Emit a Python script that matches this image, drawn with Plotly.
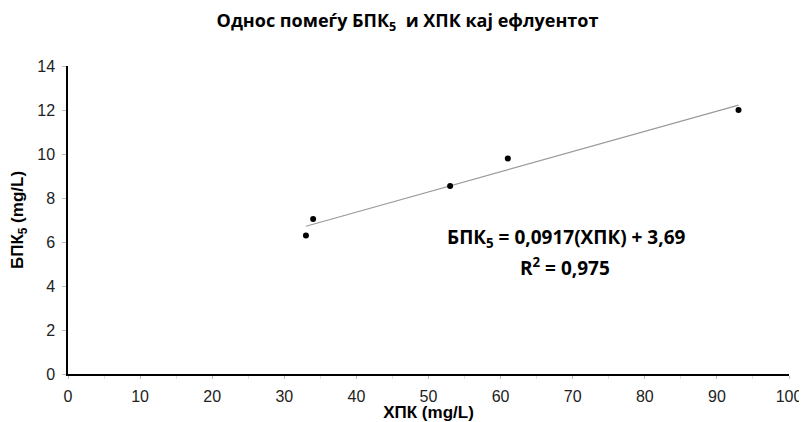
import plotly.graph_objects as go

# Data
xpk = [33, 34, 53, 61, 93]
bpk = [6.3, 7.05, 8.55, 9.8, 12.0]
slope = 0.0917
intercept = 3.69
x_ticks = [0, 10, 20, 30, 40, 50, 60, 70, 80, 90, 100]
y_ticks = [0, 2, 4, 6, 8, 10, 12, 14]

trend_x = [min(xpk), max(xpk)]
trend_y = [slope * v + intercept for v in trend_x]

fig = go.Figure()
fig.add_trace(go.Scatter(x=trend_x, y=trend_y, mode="lines",
                         line=dict(color="#9a9a9a", width=1.2), hoverinfo="skip"))
fig.add_trace(go.Scatter(x=xpk, y=bpk, mode="markers",
                         marker=dict(color="black", size=6)))

# page body has an 8px default margin, so the figure is drawn 8px in from the top-left
fig.update_layout(
    width=799, height=414,
    margin=dict(l=60, r=18, t=58, b=48),
    paper_bgcolor="white", plot_bgcolor="white",
    showlegend=False,
    title=dict(text="<b>Однос помеѓу БПК<sub>5</sub>  и ХПК кај ефлуентот</b>",
               x=0.5, xanchor="center", y=0.97, yanchor="middle",
               font=dict(family="Open Sans", size=18, color="black")),
    xaxis=dict(range=[0, 100], tickvals=x_ticks, showgrid=False, zeroline=False,
               automargin=False,
               showline=True, linecolor="black", linewidth=1.5,
               ticks="outside", ticklen=3, tickcolor="#bbbbbb",
               ticklabelstandoff=4,
               minor=dict(ticks="outside", ticklen=3, tickcolor="#dddddd", dtick=5),
               tickfont=dict(family="Arial", size=16, color="#222"),
               title=dict(text="<b>ХПК (mg/L)</b>", standoff=0,
                          font=dict(family="Arial", size=17, color="black"))),
    yaxis=dict(range=[0, 14], tickvals=y_ticks, showgrid=False, zeroline=False,
               automargin=False,
               showline=True, linecolor="black", linewidth=1.5,
               ticks="outside", ticklen=4, tickcolor="#bbbbbb",
               ticklabelstandoff=4,
               tickfont=dict(family="Arial", size=16, color="#222"),
               title=dict(text="<b>БПК<sub>5</sub> (mg/L)</b>", standoff=10,
                          font=dict(family="Arial", size=17, color="black"))),
)

fig.add_annotation(x=69.1, y=6.2, xref="x", yref="y", showarrow=False,
                   text="<b>БПК<sub>5</sub> = 0,0917(ХПК) + 3,69</b>",
                   font=dict(family="Open Sans", size=19, color="black"))
fig.add_annotation(x=69.0, y=4.85, xref="x", yref="y", showarrow=False,
                   text="<b>R<sup>2</sup> = 0,975</b>",
                   font=dict(family="Open Sans", size=19, color="black"))

fig.write_html("out.html")
